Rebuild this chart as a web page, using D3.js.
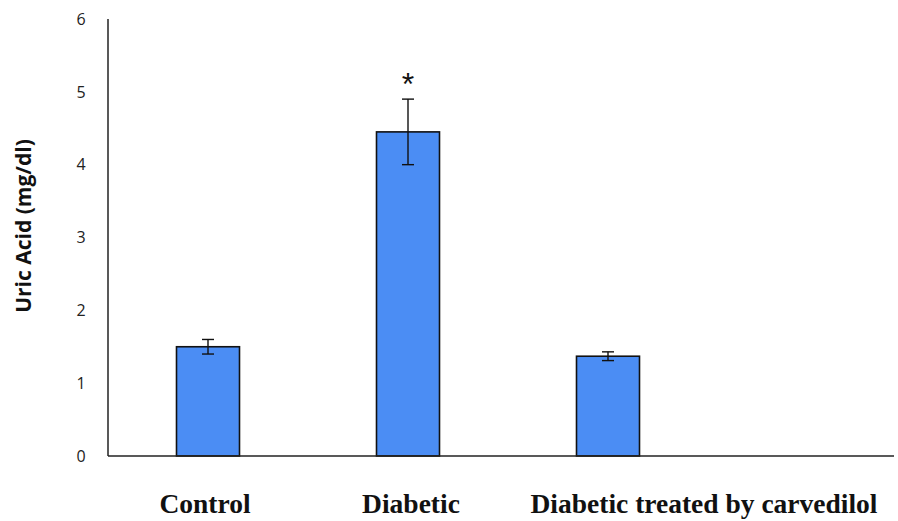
<!DOCTYPE html>
<html>
<head>
<meta charset="utf-8">
<script src="https://cdn.jsdelivr.net/npm/d3@7"></script>
<style>
  html, body { margin: 0; padding: 0; background: #fff; }
  svg { display: block; }
</style>
</head>
<body>
<svg id="chart" width="898" height="521"></svg>
<script>
// Serum uric acid by group (mean ± error)
const categories = ["Control", "Diabetic", "Diabetic treated by carvedilol"];
const values = [1.50, 4.45, 1.37];
const errors = [0.10, 0.45, 0.06];
const significance = ["", "*", ""];
const yTicks = [0, 1, 2, 3, 4, 5, 6];
const yTitle = "Uric Acid (mg/dl)";

const svg = d3.select("#chart");
const x0 = 108, x1 = 908, axisEnd = 894;
const yTop = 19, yBottom = 456;

// Four slots across the plot; the last one stays empty
const x = d3.scaleBand()
  .domain([...categories, ""])
  .range([x0, x1])
  .paddingInner(0.685)
  .paddingOuter(0.3425);

const y = d3.scaleLinear().domain([0, 6]).range([yBottom, yTop]);

// Bars
svg.append("g").selectAll("rect")
  .data(categories)
  .join("rect")
  .attr("x", d => x(d))
  .attr("y", (d, i) => y(values[i]))
  .attr("width", x.bandwidth())
  .attr("height", (d, i) => y(0) - y(values[i]))
  .attr("fill", "#4b8df4")
  .attr("stroke", "#111")
  .attr("stroke-width", 1.6);

// Error bars
const err = svg.append("g").attr("stroke", "#111").attr("stroke-width", 1.4);
categories.forEach((c, i) => {
  const cx = x(c) + x.bandwidth() / 2;
  const hi = y(values[i] + errors[i]);
  const lo = y(values[i] - errors[i]);
  err.append("line").attr("x1", cx).attr("x2", cx).attr("y1", hi).attr("y2", lo);
  err.append("line").attr("x1", cx - 6).attr("x2", cx + 6).attr("y1", hi).attr("y2", hi);
  err.append("line").attr("x1", cx - 6).attr("x2", cx + 6).attr("y1", lo).attr("y2", lo);
  if (significance[i]) {
    svg.append("text")
      .attr("x", cx)
      .attr("y", hi - 4)
      .attr("text-anchor", "middle")
      .attr("font-family", "Liberation Sans, Arial, sans-serif")
      .attr("font-size", 32)
      .attr("fill", "#111")
      .text(significance[i]);
  }
});

// Axes
svg.append("line")
  .attr("x1", x0).attr("x2", x0)
  .attr("y1", y(6)).attr("y2", y(0))
  .attr("stroke", "#222").attr("stroke-width", 1.5);
svg.append("line")
  .attr("x1", x0).attr("x2", axisEnd)
  .attr("y1", y(0)).attr("y2", y(0))
  .attr("stroke", "#222").attr("stroke-width", 1.5);

// Y tick labels
svg.append("g").selectAll("text")
  .data(yTicks)
  .join("text")
  .attr("x", 81)
  .attr("y", d => y(d))
  .attr("dy", "0.36em")
  .attr("text-anchor", "middle")
  .attr("font-family", "Open Sans, Noto Sans, sans-serif")
  .attr("font-size", 16)
  .attr("fill", "#222")
  .text(d => d);

// Y axis title
svg.append("text")
  .attr("transform", "translate(31,226) rotate(-90)")
  .attr("text-anchor", "middle")
  .attr("font-family", "Open Sans, Noto Sans, sans-serif")
  .attr("font-size", 21)
  .attr("font-weight", "bold")
  .attr("fill", "#111")
  .text(yTitle);

// Category labels
const labelX = [205, 411, 704];
svg.append("g").selectAll("text")
  .data(categories)
  .join("text")
  .attr("x", (d, i) => labelX[i])
  .attr("y", 513)
  .attr("text-anchor", "middle")
  .attr("font-family", "Liberation Serif, Times New Roman, serif")
  .attr("font-size", 27.5)
  .attr("font-weight", "bold")
  .attr("fill", "#111")
  .text(d => d);
</script>
</body>
</html>
